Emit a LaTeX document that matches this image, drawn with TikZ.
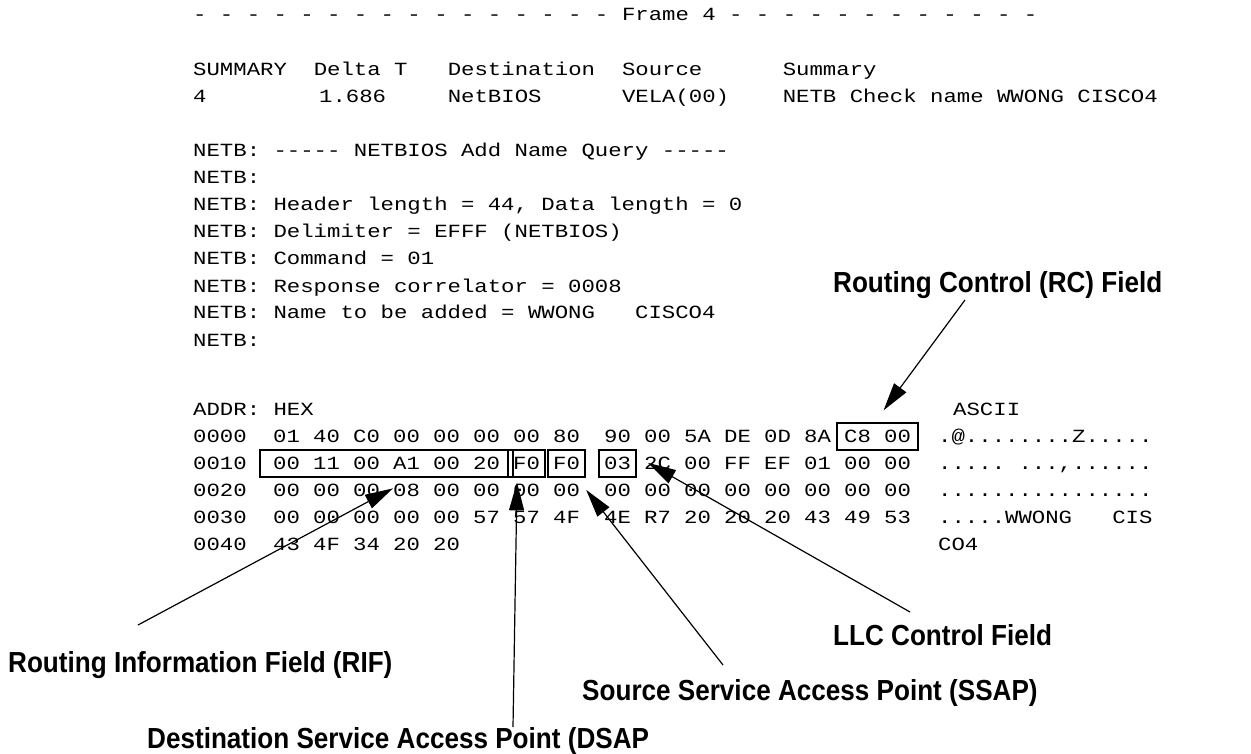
\documentclass[tikz,border=0pt]{standalone}
\usepackage{fontspec}
\usepackage{graphicx}
\setmainfont{Liberation Serif}
% wide, low monospaced face for the trace (13.4 per character)
\newfontfamily\monofont{Liberation Mono}[FakeStretch=1.2]
\newfontfamily\calloutfont{Liberation Sans}
\usetikzlibrary{arrows.meta,fit}

% column of the monospaced trace: left margin 193, 13.4 per character
\newcommand{\cx}[1]{193+(#1)*13.4}

\begin{document}
\begin{tikzpicture}[x=1pt,y=-1pt,
  mono/.style={anchor=base west, inner sep=0pt, font=\monofont\fontsize{18.6}{24}\selectfont},
  callout/.style={anchor=base west, inner sep=0pt, font=\calloutfont\bfseries\fontsize{29}{34}\selectfont},
  fieldbox/.style={draw, line width=1.4pt, inner sep=0pt, inner xsep=5pt},
  pointer/.style={line width=1.2pt, -{Triangle[length=28pt,width=15pt]}}]

\useasboundingbox[fill=white] (0,0) rectangle (1251,754);

% frame banner
\node[mono] (frameL) at ({\cx{0}},21) {- - - - - - - - - - - - - - - -};
\node[mono] (frameT) at ({\cx{32}},21) {Frame 4};
\node[mono] (frameR) at ({\cx{40}},21) {- - - - - - - - - - - -};

% summary table
\node[mono] (hS)  at ({\cx{0}},76)  {SUMMARY};
\node[mono] (hD)  at ({\cx{9}},76)  {Delta T};
\node[mono] (hDe) at ({\cx{19}},76) {Destination};
\node[mono] (hSo) at ({\cx{32}},76) {Source};
\node[mono] (hSu) at ({\cx{44}},76) {Summary};
\node[mono] (dS)  at ({\cx{0}},103)  {4};
\node[mono] (dD)  at ({\cx{9.4}},103) {1.686};
\node[mono] (dDe) at ({\cx{19}},103) {NetBIOS};
\node[mono] (dSo) at ({\cx{32}},103) {VELA(00)};
\node[mono] (dSu) at ({\cx{44}},103) {NETB Check name WWONG CISCO4};

% NetBIOS decode
\node[mono] (n1) at ({\cx{0}},157) {NETB: ----- NETBIOS Add Name Query -----};
\node[mono] (n2) at ({\cx{0}},184) {NETB:};
\node[mono] (n3) at ({\cx{0}},211) {NETB: Header length = 44, Data length = 0};
\node[mono] (n4) at ({\cx{0}},238) {NETB: Delimiter = EFFF (NETBIOS)};
\node[mono] (n5) at ({\cx{0}},265) {NETB: Command = 01};
\node[mono] (n6) at ({\cx{0}},292) {NETB: Response correlator = 0008};
\node[mono] (n7) at ({\cx{0}},319) {NETB: Name to be added = WWONG~~~CISCO4};
\node[mono] (n8) at ({\cx{0}},346) {NETB:};

% hex dump: bytes 40 apart, second group of eight starts at 604
\node[mono] (addr)  at ({\cx{0}},415) {ADDR:};
\node[mono] (hexh)  at ({\cx{6}},415) {HEX};
\node[mono] (ascih) at (953,415)      {ASCII};

\foreach \r/\y/\a/\bytes/\txt in {
  0/442/0000/{01,40,C0,00,00,00,00,80,90,00,5A,DE,0D,8A,C8,00}/{.@........Z.....},
  1/469/0010/{00,11,00,A1,00,20,F0,F0,03,2C,00,FF,EF,01,00,00}/{.....~...,......},
  2/496/0020/{00,00,00,08,00,00,00,00,00,00,00,00,00,00,00,00}/{................},
  3/523/0030/{00,00,00,00,00,57,57,4F,4E,R7,20,20,20,43,49,53}/{.....WWONG~~~CIS},
  4/550/0040/{43,4F,34,20,20}/{CO4}} {
  \node[mono] (a\r) at ({\cx{0}},\y) {\a};
  \foreach \b [count=\i from 0] in \bytes {
    \node[mono] (r\r-\i) at ({273+40*\i+(\i>7)*11},\y) {\b};
  }
  \node[mono] (c\r) at (938,\y) {\txt};
}

% corners of the highlighted fields: 19 above and 8 below the baseline
\foreach \r/\i in {1/0,1/5,1/6,1/7,1/8,0/14,0/15} {
  \coordinate (top\r-\i) at ([yshift=19pt]r\r-\i.base west);
  \coordinate (bot\r-\i) at ([yshift=-8pt]r\r-\i.base east);
}

% highlighted fields
\node[fieldbox, inner xsep=13pt, fit=(top1-0)(bot1-5)] (rif) {};
\node[fieldbox, fit=(top1-6)(bot1-6)] (dsap) {};
\node[fieldbox, fit=(top1-7)(bot1-7)] (ssap) {};
\node[fieldbox, fit=(top1-8)(bot1-8)] (llc) {};
\node[fieldbox, inner xsep=7pt, fit=(top0-14)(bot0-15)] (rc) {};

% callouts
\newcommand{\narrow}[1]{\scalebox{0.9}[1]{#1}}
\node[callout] (rcl)   at (833,293) {\narrow{Routing Control (RC) Field}};
\node[callout] (llcl)  at (833,645) {\narrow{LLC Control Field}};
\node[callout] (rifl)  at (8,672)   {\narrow{Routing Information Field (RIF)}};
\node[callout] (ssapl) at (582,700) {\narrow{Source Service Access Point (SSAP)}};
\node[callout] (dsapl) at (147,748) {\narrow{Destination Service Access Point (DSAP}};

% pointer ends
\coordinate (rcs)   at (965,300);
\coordinate (rct)   at ([xshift=6pt,yshift=12pt]rc.north);
\coordinate (llcs)  at (910,612);
\coordinate (llct)  at ([xshift=4pt]r1-9.west);
\coordinate (rifs)  at (138,625);
\coordinate (rift)  at ([yshift=-5pt]r2-3.north west);
\coordinate (ssaps) at (723,665);
\coordinate (ssapt) at ([xshift=6pt]r2-7.east);
\coordinate (dsaps) at (513,727);
\coordinate (dsapt) at ([xshift=4pt,yshift=1pt]r2-6.north west);

\draw[pointer] (rcs) -- (rct);
\draw[pointer] (llcs) -- (llct);
\draw[pointer] (rifs) -- (rift);
\draw[pointer] (ssaps) -- (ssapt);
\draw[pointer] (dsaps) -- (dsapt);
\end{tikzpicture}
\end{document}
